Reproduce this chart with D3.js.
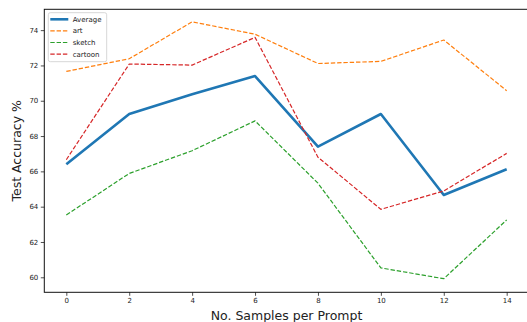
<!DOCTYPE html>
<html>
<head>
<meta charset="utf-8">
<script src="https://cdn.jsdelivr.net/npm/d3@7"></script>
<style>
  body { margin: 0; background: #fff; }
  text { font-family: "DejaVu Sans", sans-serif; fill: #222; }
</style>
</head>
<body>
<svg id="chart" width="527" height="322"></svg>
<script>
const samples = [0, 2, 4, 6, 8, 10, 12, 14];
const average = [66.4, 69.25, 70.37, 71.4, 67.4, 69.25, 64.66, 66.12];
const art = [71.66, 72.38, 74.47, 73.77, 72.11, 72.23, 73.44, 70.57];
const sketch = [63.53, 65.88, 67.17, 68.86, 65.33, 60.53, 59.92, 63.25];
const cartoon = [66.66, 72.08, 72.02, 73.59, 66.8, 63.85, 64.89, 67.02];
const xTicks = [0, 2, 4, 6, 8, 10, 12, 14];
const yTicks = [60, 62, 64, 66, 68, 70, 72, 74];

const series = [
  { name: "Average", values: average, color: "#1f77b4", width: 2.6, dash: null },
  { name: "art", values: art, color: "#ff7f0e", width: 1.2, dash: "4.4,1.9" },
  { name: "sketch", values: sketch, color: "#2ca02c", width: 1.2, dash: "4.4,1.9" },
  { name: "cartoon", values: cartoon, color: "#d62728", width: 1.2, dash: "4.4,1.9" },
];

const svg = d3.select("#chart");
const plotLeft = 44.3, plotRight = 528.7, plotTop = 9.3, plotBottom = 292.3;

const x = d3.scaleLinear().domain([-0.7, 14.7]).range([plotLeft, plotRight]);
const y = d3.scaleLinear().domain([59.15, 75.18]).range([plotBottom, plotTop]);

// axes
const xAxis = svg.append("g")
  .attr("transform", `translate(0,${plotBottom})`)
  .call(d3.axisBottom(x).tickValues(xTicks).tickSize(3.5).tickPadding(2.5).tickFormat(d3.format("d")));
const yAxis = svg.append("g")
  .attr("transform", `translate(${plotLeft},0)`)
  .call(d3.axisLeft(y).tickValues(yTicks).tickSize(3.5).tickPadding(2.5).tickFormat(d3.format("d")));

[xAxis, yAxis].forEach((g) => {
  g.select(".domain").remove();
  g.selectAll("line").attr("stroke", "#222").attr("stroke-width", 0.8);
  g.selectAll("text").attr("font-size", 7).attr("font-family", "DejaVu Sans").attr("fill", "#333");
});

// frame
svg.append("rect")
  .attr("x", plotLeft).attr("y", plotTop)
  .attr("width", plotRight - plotLeft).attr("height", plotBottom - plotTop)
  .attr("fill", "none").attr("stroke", "#111").attr("stroke-width", 1);

// lines
const line = d3.line().x((d, i) => x(samples[i])).y((d) => y(d));
series.forEach((s) => {
  svg.append("path")
    .datum(s.values)
    .attr("d", line)
    .attr("fill", "none")
    .attr("stroke", s.color)
    .attr("stroke-width", s.width)
    .attr("stroke-dasharray", s.dash)
    .attr("stroke-linejoin", "round");
});

// axis labels
svg.append("text")
  .attr("x", (plotLeft + plotRight) / 2)
  .attr("y", 320)
  .attr("text-anchor", "middle")
  .attr("font-size", 12.5)
  .text("No. Samples per Prompt");

svg.append("text")
  .attr("transform", `translate(21,${(plotTop + plotBottom) / 2}) rotate(-90)`)
  .attr("text-anchor", "middle")
  .attr("font-size", 12.5)
  .text("Test Accuracy %");

// legend
const legend = svg.append("g").attr("transform", "translate(48.3,12.7)");
legend.append("rect")
  .attr("width", 58.4).attr("height", 49)
  .attr("rx", 2)
  .attr("fill", "#fff").attr("fill-opacity", 0.8)
  .attr("stroke", "#ccc").attr("stroke-width", 0.8);

const rowStep = 11.6;
series.forEach((s, i) => {
  const ry = 6.6 + i * rowStep;
  legend.append("line")
    .attr("x1", 2).attr("x2", 20).attr("y1", ry).attr("y2", ry)
    .attr("stroke", s.color)
    .attr("stroke-width", s.width)
    .attr("stroke-dasharray", s.dash);
  legend.append("text")
    .attr("x", 24.4).attr("y", ry)
    .attr("dy", "0.35em")
    .attr("font-size", 7)
    .text(s.name);
});
</script>
</body>
</html>
